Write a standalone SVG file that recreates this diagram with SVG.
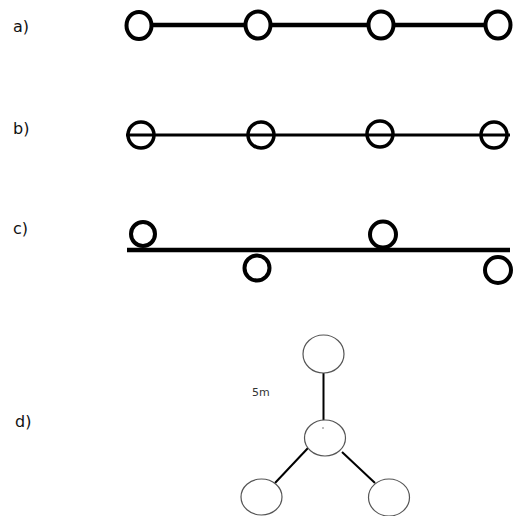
<svg xmlns="http://www.w3.org/2000/svg" width="513" height="516" viewBox="0 0 513 516">
<style>
.lbl{font-family:"DejaVu Sans","Verdana",sans-serif;font-size:16px;fill:#111}
.thick{stroke:#000;stroke-width:4;fill:#fff}
.mid{stroke:#000;stroke-width:3.5;fill:none}
.thin{stroke:#555;stroke-width:1.2;fill:#fff}
.edge{stroke:#000;fill:none}
</style>
<rect width="513" height="516" fill="#fff"/>
<g id="labels">
<text class="lbl" x="13" y="32">a)</text>
<text class="lbl" x="13" y="134">b)</text>
<text class="lbl" x="13" y="234">c)</text>
<text class="lbl" x="15" y="427">d)</text>
<text x="252" y="396" style="font-family:'DejaVu Sans',sans-serif;font-size:11px;fill:#333">5m</text>
</g>
<g id="connectors">
<line class="edge" x1="139" y1="25" x2="498" y2="25" stroke-width="4.5"/>
<line class="edge" x1="126" y1="135" x2="510" y2="135" stroke-width="3"/>
<line class="edge" x1="127" y1="250" x2="510" y2="250" stroke-width="4.5"/>
<line class="edge" x1="323.5" y1="373" x2="323.5" y2="420" stroke-width="2"/>
<line class="edge" x1="275" y1="483" x2="308" y2="448" stroke-width="2"/>
<line class="edge" x1="342" y1="452" x2="375" y2="483" stroke-width="2"/>
</g>
<g id="row-a">
<g id="a1"><ellipse class="thick" cx="139" cy="25.5" rx="12.5" ry="13.5"/></g>
<g id="a2"><ellipse class="thick" cx="258" cy="25" rx="12.5" ry="13.5"/></g>
<g id="a3"><ellipse class="thick" cx="381" cy="25" rx="12.5" ry="13.5"/></g>
<g id="a4"><ellipse class="thick" cx="498" cy="25" rx="12.5" ry="13.5"/></g>
</g>
<g id="row-b">
<g id="b1"><circle class="mid" cx="141" cy="135" r="13"/></g>
<g id="b2"><circle class="mid" cx="261" cy="135" r="13"/></g>
<g id="b3"><circle class="mid" cx="380" cy="134" r="13"/></g>
<g id="b4"><circle class="mid" cx="494" cy="135" r="13"/></g>
</g>
<g id="row-c">
<g id="c1"><circle class="thick" cx="143" cy="234" r="12"/></g>
<g id="c2"><circle class="thick" cx="257" cy="268" r="12.5"/></g>
<g id="c3"><circle class="thick" cx="383" cy="234.5" r="13"/></g>
<g id="c4"><circle class="thick" cx="498" cy="270" r="13"/></g>
</g>
<g id="tree-d">
<g id="d-top"><ellipse class="thin" cx="323.5" cy="354" rx="20.5" ry="19"/></g>
<g id="d-center"><ellipse class="thin" cx="325" cy="438" rx="20.5" ry="18"/><circle cx="323" cy="428" r="0.8" fill="#666"/></g>
<g id="d-left"><ellipse class="thin" cx="261.5" cy="497" rx="20.5" ry="18"/></g>
<g id="d-right"><ellipse class="thin" cx="389" cy="497.5" rx="20.5" ry="18.5"/></g>
</g>
</svg>
